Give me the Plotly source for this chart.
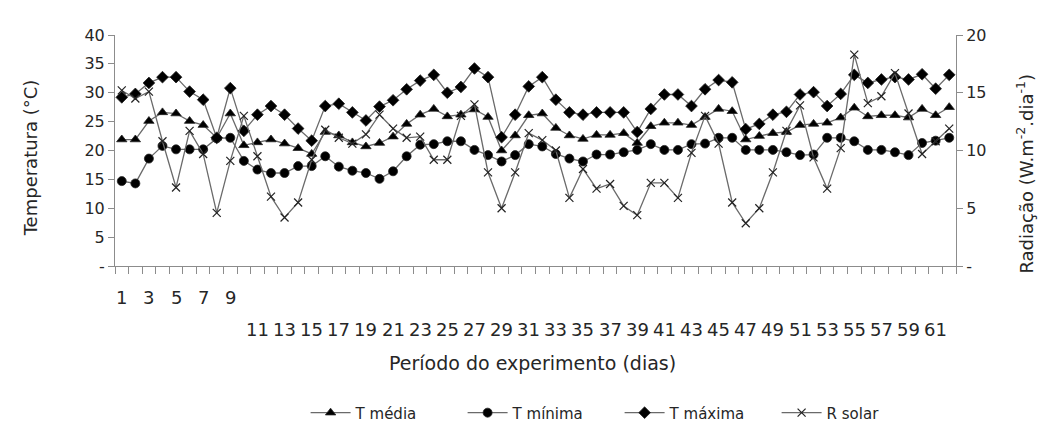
import plotly.graph_objects as go

days = list(range(1, 63))

t_media = [21.9, 21.9, 25.1, 26.6, 26.4, 25.1, 24.4, 22.2, 26.4, 20.9,
           21.4, 21.9, 21.2, 20.4, 19.4, 23.2, 22.6, 21.4, 20.7, 21.3,
           22.4, 24.6, 26.2, 27.2, 25.9, 26.2, 27.1, 25.8, 20.0, 22.6,
           26.1, 26.4, 23.9, 22.6, 22.0, 22.7, 22.7, 23.0, 21.3, 24.2,
           24.8, 24.8, 24.4, 25.8, 27.2, 26.8, 21.9, 22.5, 23.0, 23.2,
           24.4, 24.6, 24.8, 25.7, 27.4, 25.9, 26.1, 26.1, 25.7, 27.2,
           26.1, 27.5]

t_minima = [14.7, 14.3, 18.6, 20.8, 20.2, 20.2, 20.2, 22.1, 22.2, 18.2,
            16.7, 16.1, 16.1, 17.3, 17.3, 19.0, 17.2, 16.5, 16.1, 15.1,
            16.4, 19.0, 21.0, 21.1, 21.6, 21.6, 20.1, 19.2, 18.1, 19.2,
            21.1, 20.7, 19.4, 18.6, 18.1, 19.3, 19.3, 19.7, 20.1, 21.1,
            20.1, 20.1, 21.1, 21.2, 22.2, 22.2, 20.1, 20.1, 20.1, 19.7,
            19.2, 19.3, 22.2, 22.2, 21.6, 20.1, 20.1, 19.7, 19.2, 21.3,
            21.7, 22.2]

t_maxima = [29.2, 29.8, 31.7, 32.7, 32.7, 30.2, 28.8, 22.2, 30.8, 23.4,
            26.2, 27.7, 26.2, 23.8, 21.7, 27.7, 28.1, 26.6, 25.2, 27.6,
            28.7, 30.6, 32.1, 33.1, 30.0, 31.0, 34.2, 32.7, 22.3, 26.2,
            31.1, 32.7, 28.8, 26.6, 26.2, 26.6, 26.6, 26.6, 23.2, 27.2,
            29.7, 29.7, 27.7, 30.6, 32.2, 31.8, 23.7, 24.6, 26.2, 26.7,
            29.7, 30.1, 27.7, 29.8, 33.1, 31.7, 32.3, 32.7, 32.3, 33.2,
            30.7, 33.1]

r_solar = [15.2, 14.5, 15.1, 10.8, 6.8, 11.7, 9.7, 4.6, 9.1, 13.0,
           9.5, 6.0, 4.2, 5.5, 9.2, 11.8, 11.1, 10.6, 11.4, 13.1,
           11.9, 11.1, 11.2, 9.2, 9.2, 13.0, 14.0, 8.1, 5.0, 8.1,
           11.5, 10.9, 10.0, 5.9, 8.4, 6.7, 7.1, 5.2, 4.4, 7.2,
           7.2, 5.9, 9.8, 13.0, 10.6, 5.5, 3.7, 5.0, 8.1, 11.7,
           13.9, 9.4, 6.7, 10.2, 18.3, 14.1, 14.7, 16.7, 13.2, 9.7,
           10.8, 11.9]

temp_ticks = [0, 5, 10, 15, 20, 25, 30, 35, 40]
temp_ticktext = ["-", "5", "10", "15", "20", "25", "30", "35", "40"]
rad_ticks = [0, 5, 10, 15, 20]
rad_ticktext = ["-", "5", "10", "15", "20"]
row1_days = [1, 3, 5, 7, 9]
row2_days = list(range(11, 62, 2))

FONT = "DejaVu Sans"
TXT = "#262626"
LINE = "#6a6a6a"
AX = "#8c8c8c"

fig = go.Figure()

def add(name, y, symbol, size, axis="y"):
    fig.add_trace(go.Scatter(
        x=days, y=y, name=name, mode="lines+markers", yaxis=axis,
        line=dict(color=LINE, width=1.3),
        marker=dict(symbol=symbol, size=size, color="black",
                    line=dict(color="#222", width=0.8 if symbol != "x-thin" else 1.2)),
    ))

add("T média", t_media, "triangle-up", 9)
add("T mínima", t_minima, "circle", 9)
add("T máxima", t_maxima, "diamond", 9)
add("R solar", r_solar, "x-thin", 8, axis="y2")

annotations = []
for d in row1_days:
    annotations.append(dict(x=d, y=-0.138, xref="x", yref="paper", text=str(d),
                            showarrow=False, yanchor="middle",
                            font=dict(family=FONT, size=18, color=TXT)))
for d in row2_days:
    annotations.append(dict(x=d, y=-0.277, xref="x", yref="paper", text=str(d),
                            showarrow=False, yanchor="middle",
                            font=dict(family=FONT, size=18, color=TXT)))
annotations.append(dict(x=0.497, y=-0.42, xref="paper", yref="paper",
                        text="Período do experimento (dias)", showarrow=False,
                        yanchor="middle", font=dict(family=FONT, size=19, color=TXT)))
annotations.append(dict(x=-0.1, y=0.47, xref="paper", yref="paper",
                        text="Temperatura (°C)", textangle=-90, showarrow=False,
                        xanchor="center", yanchor="middle",
                        font=dict(family=FONT, size=18, color=TXT)))
annotations.append(dict(x=1.082, y=0.40, xref="paper", yref="paper",
                        text="Radiação (W.m<sup>-2</sup>.dia<sup>-1</sup>)", textangle=-90,
                        showarrow=False, xanchor="center", yanchor="middle",
                        font=dict(family=FONT, size=18, color=TXT)))

fig.update_layout(
    width=1048, height=434,
    margin=dict(l=107, r=100, t=27, b=176),
    paper_bgcolor="white", plot_bgcolor="white",
    font=dict(family=FONT, size=16, color=TXT),
    showlegend=True,
    legend=dict(orientation="h", x=0.6, xanchor="center", y=-0.636, yanchor="middle",
                font=dict(family=FONT, size=15, color=TXT),
                itemwidth=40, entrywidth=102, entrywidthmode="pixels",
                traceorder="normal"),
    annotations=annotations,
    xaxis=dict(range=[0.5, 62.5], tickvals=[d - 0.5 for d in days] + [62.5],
               showticklabels=False, ticks="outside", ticklen=7, tickcolor=AX,
               showline=True, linecolor=AX, linewidth=1, showgrid=False, zeroline=False),
    yaxis=dict(range=[0, 40], tickvals=temp_ticks, ticktext=temp_ticktext,
               ticks="outside", ticklen=6, tickcolor=AX, showline=True, linecolor=AX,
               linewidth=1, showgrid=False, zeroline=False,
               tickfont=dict(family=FONT, size=16, color=TXT)),
    yaxis2=dict(range=[0, 20], tickvals=rad_ticks, ticktext=rad_ticktext,
                overlaying="y", side="right", ticks="outside", ticklen=6, tickcolor=AX,
                showline=True, linecolor=AX, linewidth=1, showgrid=False, zeroline=False,
                tickfont=dict(family=FONT, size=16, color=TXT)),
)

fig.write_html("out.html")
